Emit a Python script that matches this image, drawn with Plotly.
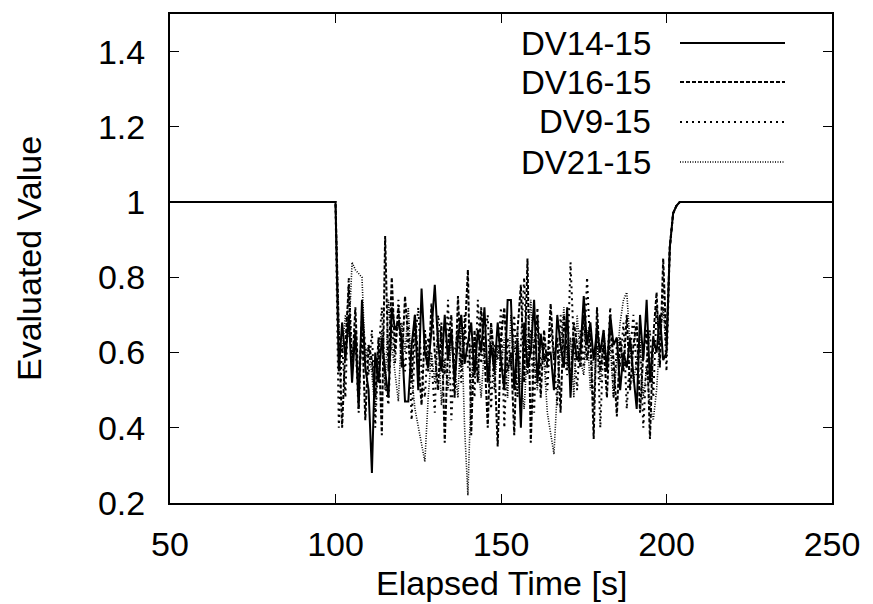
import plotly.graph_objects as go

# ---------------- data ----------------
series_names = ["DV14-15", "DV16-15", "DV9-15", "DV21-15"]

time_before = [50, 100]
value_before = [1.0, 1.0]

time_noisy = list(range(101, 201))  # 101 .. 200 s

dv14_15 = [0.55, 0.68, 0.58, 0.70, 0.52, 0.66, 0.45, 0.74, 0.56, 0.50,
           0.28, 0.60, 0.52, 0.64, 0.55, 0.48, 0.72, 0.66, 0.68, 0.64,
           0.47, 0.47, 0.62, 0.70, 0.50, 0.77, 0.60, 0.56, 0.66, 0.78,
           0.62, 0.55, 0.70, 0.58, 0.66, 0.52, 0.64, 0.70, 0.57, 0.62,
           0.68, 0.54, 0.66, 0.60, 0.72, 0.52, 0.62, 0.55, 0.68, 0.58,
           0.50, 0.74, 0.74, 0.50, 0.63, 0.40, 0.68, 0.56, 0.60, 0.74,
           0.52, 0.65, 0.58, 0.60, 0.60, 0.50, 0.70, 0.62, 0.56, 0.72,
           0.48, 0.64, 0.58, 0.60, 0.75, 0.62, 0.68, 0.58, 0.66, 0.60,
           0.66, 0.55, 0.70, 0.62, 0.64, 0.50, 0.60, 0.56, 0.64, 0.54,
           0.45, 0.70, 0.58, 0.74, 0.52, 0.64, 0.60, 0.70, 0.58, 0.60]

dv16_15 = [0.66, 0.40, 0.62, 0.78, 0.55, 0.72, 0.50, 0.68, 0.42, 0.62,
           0.58, 0.48, 0.64, 0.38, 0.91, 0.55, 0.80, 0.60, 0.72, 0.56,
           0.75, 0.64, 0.52, 0.70, 0.58, 0.46, 0.66, 0.55, 0.73, 0.60,
           0.50, 0.68, 0.36, 0.62, 0.70, 0.48, 0.75, 0.56, 0.64, 0.82,
           0.38, 0.66, 0.52, 0.72, 0.60, 0.40, 0.68, 0.58, 0.35, 0.64,
           0.72, 0.55, 0.60, 0.38, 0.66, 0.78, 0.52, 0.85, 0.36, 0.62,
           0.70, 0.48, 0.66, 0.56, 0.73, 0.58, 0.64, 0.44, 0.70, 0.60,
           0.52, 0.68, 0.62, 0.56, 0.70, 0.58, 0.65, 0.37, 0.72, 0.55,
           0.62, 0.48, 0.68, 0.58, 0.43, 0.64, 0.55, 0.70, 0.50, 0.62,
           0.68, 0.44, 0.60, 0.66, 0.37, 0.64, 0.76, 0.56, 0.85, 0.62]

dv9_15 = [0.40, 0.62, 0.48, 0.80, 0.58, 0.64, 0.44, 0.70, 0.62, 0.54,
          0.66, 0.40, 0.60, 0.72, 0.52, 0.46, 0.68, 0.57, 0.74, 0.62,
          0.55, 0.68, 0.42, 0.62, 0.72, 0.55, 0.48, 0.64, 0.58, 0.44,
          0.70, 0.63, 0.54, 0.74, 0.42, 0.60, 0.66, 0.52, 0.70, 0.56,
          0.62, 0.48, 0.74, 0.57, 0.64, 0.70, 0.45, 0.62, 0.58, 0.72,
          0.40, 0.64, 0.56, 0.70, 0.48, 0.62, 0.80, 0.54, 0.66, 0.44,
          0.72, 0.56, 0.62, 0.50, 0.67, 0.58, 0.46, 0.70, 0.60, 0.54,
          0.84, 0.62, 0.50, 0.66, 0.56, 0.80, 0.60, 0.46, 0.68, 0.40,
          0.64, 0.55, 0.72, 0.48, 0.62, 0.56, 0.68, 0.45, 0.60, 0.70,
          0.54, 0.62, 0.40, 0.58, 0.66, 0.48, 0.72, 0.62, 0.78, 0.55]

dv21_15 = [0.66, 0.60, 0.70, 0.64, 0.84, 0.82, 0.81, 0.80, 0.58, 0.62,
           0.54, 0.44, 0.60, 0.66, 0.50, 0.74, 0.62, 0.55, 0.47, 0.68,
           0.60, 0.72, 0.54, 0.45, 0.40, 0.36, 0.31, 0.48, 0.60, 0.52,
           0.66, 0.46, 0.58, 0.50, 0.64, 0.56, 0.48, 0.70, 0.40, 0.22,
           0.52, 0.64, 0.58, 0.48, 0.62, 0.55, 0.68, 0.50, 0.62, 0.56,
           0.64, 0.48, 0.70, 0.60, 0.66, 0.52, 0.45, 0.62, 0.74, 0.57,
           0.50, 0.64, 0.58, 0.44, 0.38, 0.33, 0.50, 0.62, 0.72, 0.56,
           0.64, 0.48, 0.70, 0.58, 0.54, 0.66, 0.50, 0.60, 0.62, 0.52,
           0.66, 0.56, 0.62, 0.48, 0.58, 0.68, 0.74, 0.76, 0.62, 0.52,
           0.58, 0.64, 0.48, 0.56, 0.46, 0.42, 0.50, 0.64, 0.72, 0.60]

time_recovery = [201, 202, 203, 204, 250]
value_recovery = [0.88, 0.97, 0.99, 1.0, 1.0]

x_ticks = [50, 100, 150, 200, 250]
y_ticks = [0.2, 0.4, 0.6, 0.8, 1.0, 1.2, 1.4]
y_tick_labels = ["0.2", "0.4", "0.6", "0.8", "1", "1.2", "1.4"]

# ---------------- styling ----------------
FONT = "Liberation Sans, Arial, Helvetica, sans-serif"
FS = 34
KEY_FS = 33
dashes = ["solid", "4px,2px", "2px,4px", "1px,1.5px"]
widths = [2, 2, 2, 1.6]

# page body has an 8px margin: figure is 8px smaller and placed at (8, 8)
W, H = 865, 596
ML, MR, MT, MB = 162, 41, 6, 101
PW, PH = W - ML - MR, H - MT - MB  # plot area 662 x 489

fig = go.Figure()
all_series = [dv14_15, dv16_15, dv9_15, dv21_15]
for name, vals, dash, w in zip(series_names, all_series, dashes, widths):
    fig.add_trace(go.Scatter(
        x=time_before + time_noisy + time_recovery,
        y=value_before + vals + value_recovery,
        mode="lines", name=name,
        line=dict(color="black", width=w, dash=dash),
        showlegend=False,
    ))

# gnuplot-style key: text on the left, line sample on the right
key_text_right = 645             # px from figure left
key_rows_y = [35, 74, 114, 154]  # px from figure top
key_line_x = (672, 777)
for name, dash, w, py in zip(series_names, dashes, widths, key_rows_y):
    yp = (H - MB - py) / PH
    fig.add_annotation(
        xref="paper", yref="paper", x=(key_text_right - ML) / PW, y=yp,
        xanchor="right", yanchor="middle", showarrow=False, text=name,
        font=dict(family=FONT, size=KEY_FS, color="black"),
    )
    fig.add_shape(type="line", xref="paper", yref="paper",
                  x0=(key_line_x[0] - ML) / PW, x1=(key_line_x[1] - ML) / PW,
                  y0=yp, y1=yp,
                  line=dict(color="black", width=w, dash=dash))

# x axis title placed as in the reference
fig.add_annotation(
    xref="paper", yref="paper", x=0.5, y=(H - MB - 575) / PH,
    xanchor="center", yanchor="middle", showarrow=False,
    text="Elapsed Time [s]", font=dict(family=FONT, size=FS, color="black"),
)

fig.update_layout(
    width=W, height=H,
    margin=dict(l=ML, r=MR, t=MT, b=MB, autoexpand=False),
    paper_bgcolor="white", plot_bgcolor="white",
    font=dict(family=FONT, size=FS, color="black"),
)

fig.update_xaxes(
    range=[50, 250], tickvals=x_ticks, ticktext=[str(v) for v in x_ticks],
    showline=True, linecolor="black", linewidth=2, mirror="ticks",
    ticks="inside", ticklen=9, tickwidth=1, tickcolor="black",
    showgrid=False, zeroline=False, ticklabelstandoff=10,
)
fig.update_yaxes(
    range=[0.2, 1.5], tickvals=y_ticks, ticktext=y_tick_labels,
    showline=True, linecolor="black", linewidth=2, mirror="ticks",
    ticks="inside", ticklen=9, tickwidth=1, tickcolor="black",
    showgrid=False, zeroline=False, ticklabelstandoff=16,
    title=dict(text="Evaluated Value", font=dict(family=FONT, size=FS), standoff=46),
)

fig.write_html("out.html")
